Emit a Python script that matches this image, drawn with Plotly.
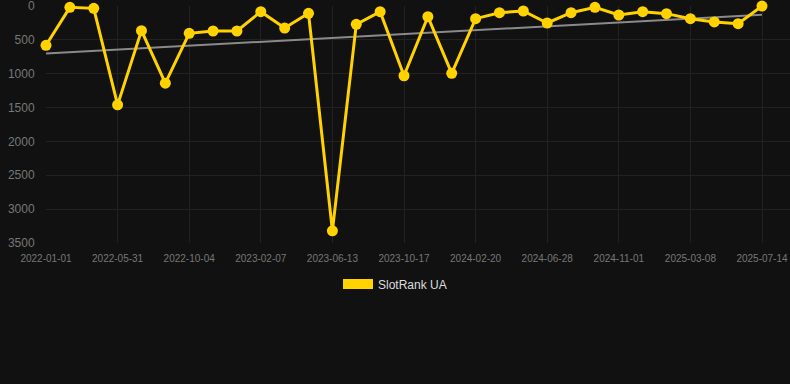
import plotly.graph_objects as go

dates = [
    "2022-01-01", "2022-02-20", "2022-04-10", "2022-05-31", "2022-07-12", "2022-08-23",
    "2022-10-04", "2022-11-15", "2022-12-27", "2023-02-07", "2023-03-21", "2023-05-02",
    "2023-06-13", "2023-07-25", "2023-09-05", "2023-10-17", "2023-11-28", "2024-01-09",
    "2024-02-20", "2024-04-02", "2024-05-14", "2024-06-28", "2024-08-09", "2024-09-20",
    "2024-11-01", "2024-12-13", "2025-01-24", "2025-03-08", "2025-04-19", "2025-06-01",
    "2025-07-14",
]
rank = [
    580, 20, 35, 1460, 364, 1140, 404, 369, 369, 84, 325, 108,
    3320, 271, 84, 1030, 158, 994, 187, 99, 74, 251, 99, 20,
    133, 84, 113, 187, 236, 261, 1,
]
tick_labels = dates[::3]
trend_x = [dates[0], dates[-1]]
trend_y = [700, 128]

series_name = "SlotRank UA"
gold = "#FFD200"

fig = go.Figure()
fig.add_trace(go.Scatter(
    x=trend_x, y=trend_y, mode="lines",
    line=dict(color="#8a8a8a", width=2), showlegend=False, hoverinfo="skip",
))
fig.add_trace(go.Scatter(
    x=dates, y=rank, mode="lines+markers", name=series_name,
    line=dict(color=gold, width=3), marker=dict(color=gold, size=11),
    showlegend=False, cliponaxis=False,
))
fig.add_trace(go.Scatter(
    x=[None], y=[None], mode="lines", name=series_name,
    line=dict(color=gold, width=10), showlegend=True,
))

n = len(dates)
fig.update_layout(
    width=790, height=384,
    margin=dict(l=46, r=0, t=6, b=141),
    paper_bgcolor="#111111", plot_bgcolor="#111111",
    font=dict(family="Liberation Sans, Arial, sans-serif", color="#777777", size=11),
    showlegend=True,
    legend=dict(
        orientation="h", x=0.5, xanchor="center", xref="container",
        y=1 - 284 / 384, yanchor="middle", yref="container",
        font=dict(color="#dddddd", size=12), bgcolor="rgba(0,0,0,0)",
    ),
    xaxis=dict(
        type="category", categoryorder="array", categoryarray=dates,
        range=[0, (744 / 716) * (n - 1)],
        tickmode="array", tickvals=tick_labels, ticktext=tick_labels,
        showgrid=True, gridcolor="#222222", gridwidth=1,
        zeroline=False, showline=False,
        ticks="outside", ticklen=6, tickcolor="rgba(0,0,0,0)",
        tickfont=dict(size=10, color="#777777"),
    ),
    yaxis=dict(
        range=[3500, 0], tickmode="array",
        tickvals=[0, 500, 1000, 1500, 2000, 2500, 3000, 3500],
        ticktext=["0", "500", "1000", "1500", "2000", "2500", "3000", "3500"],
        showgrid=True, gridcolor="#222222", gridwidth=1,
        zeroline=False, showline=False, ticklabeloverflow="allow",
        ticks="outside", ticklen=8, tickcolor="rgba(0,0,0,0)",
        tickfont=dict(size=12, color="#777777"),
    ),
)

fig.write_html("out.html")
